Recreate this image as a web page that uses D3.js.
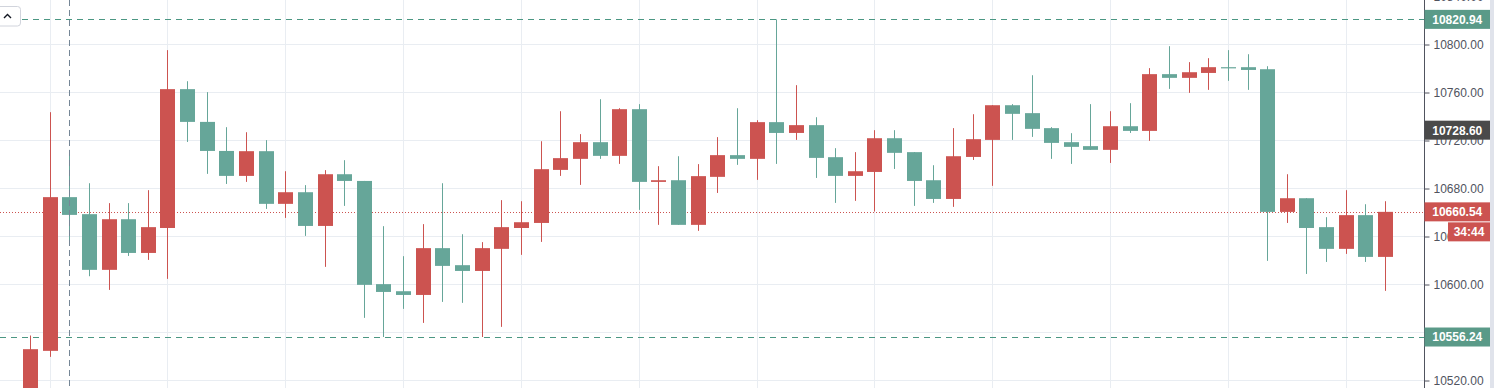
<!DOCTYPE html>
<html>
<head>
<meta charset="utf-8">
<script src="https://cdn.jsdelivr.net/npm/d3@7"></script>
<style>
  html, body { margin: 0; padding: 0; background: #ffffff; overflow: hidden; }
  svg { display: block; }
  text { font-family: "Liberation Sans", Arial, sans-serif; }
</style>
</head>
<body>
<svg id="chart" width="1494" height="388"></svg>
<script>
// ---- data ----
const openVals  = [10500, 10544.7, 10672.8, 10658.6, 10612.2, 10654.4, 10626.3, 10647.1, 10762.8, 10735.5,
                   10711.3, 10690.5, 10711.1, 10667.2, 10676.9, 10648.8, 10691.9, 10686.3, 10600.3, 10594.4,
                   10591.3, 10630.3, 10616.1, 10611.3, 10629.7, 10647.1, 10651.3, 10695.5, 10704.7, 10718.6,
                   10707.2, 10746.1, 10685.5, 10686.9, 10649.7, 10689.7, 10707.8, 10704.7, 10735.3, 10726.3,
                   10732.8, 10706.1, 10690.5, 10693.8, 10721.9, 10710.3, 10686.9, 10671.3, 10706.3, 10720.5,
                   10749.4, 10742.8, 10730.3, 10718.6, 10715.3, 10712.2, 10731.9, 10728.0, 10775.3, 10772.2,
                   10776.3, 10781.1, 10781.1, 10779.4, 10660.5, 10671.9, 10647.8, 10629.7, 10657.8, 10623.0];
const highVals  = [10557.5, 10743.6, 10712.2, 10684.4, 10667.8, 10667.8, 10678.6, 10795.3, 10769.4, 10760.3,
                   10731.1, 10726.9, 10720.3, 10694.4, 10682.8, 10695.3, 10703.6, 10686.3, 10648.6, 10623.6,
                   10650.3, 10684.4, 10641.9, 10635.3, 10670.3, 10669.4, 10719.4, 10744.4, 10725.3, 10754.4,
                   10746.9, 10750.3, 10698.6, 10706.9, 10700.3, 10722.8, 10746.9, 10736.9, 10820.94, 10766.1,
                   10739.4, 10713.6, 10710.3, 10728.6, 10728.6, 10710.3, 10699.4, 10730.3, 10741.9, 10749.4,
                   10750.3, 10774.4, 10731.1, 10726.1, 10750.3, 10744.4, 10751.1, 10780.3, 10798.6, 10785.3,
                   10788.6, 10795.3, 10791.9, 10781.9, 10691.9, 10671.9, 10656.1, 10678.6, 10666.9, 10669.4];
const lowVals   = [10490, 10539.7, 10635.8, 10606.9, 10595.5, 10623.8, 10620.5, 10604.7, 10718.8, 10692.2,
                   10683.8, 10685.5, 10663.0, 10655.5, 10640.5, 10614.7, 10665.5, 10572.2, 10556.24, 10579.7,
                   10568.0, 10585.5, 10584.7, 10556.24, 10564.7, 10624.7, 10635.5, 10690.5, 10683.0, 10704.7,
                   10700.5, 10662.2, 10649.7, 10649.7, 10644.7, 10676.3, 10699.7, 10687.2, 10700.5, 10720.5,
                   10688.8, 10668.0, 10669.7, 10660.8, 10696.3, 10665.5, 10668.0, 10664.7, 10703.8, 10682.2,
                   10720.5, 10723.0, 10704.7, 10700.5, 10712.2, 10701.3, 10726.3, 10719.7, 10763.0, 10759.7,
                   10762.2, 10769.7, 10762.2, 10619.7, 10651.3, 10608.8, 10618.8, 10625.5, 10618.8, 10594.7];
const closeVals = [10546.1, 10672.8, 10658.0, 10612.2, 10654.4, 10626.3, 10647.8, 10762.8, 10735.5, 10711.3,
                   10690.5, 10711.1, 10667.2, 10676.9, 10648.8, 10691.9, 10686.3, 10599.7, 10593.8, 10591.3,
                   10630.3, 10615.5, 10611.3, 10630.3, 10647.8, 10651.9, 10696.1, 10705.3, 10718.6, 10707.2,
                   10746.1, 10685.5, 10686.9, 10649.7, 10690.3, 10707.8, 10704.7, 10735.3, 10726.3, 10732.8,
                   10705.5, 10690.5, 10694.4, 10721.9, 10709.7, 10686.3, 10671.3, 10706.9, 10721.1, 10749.4,
                   10742.2, 10729.7, 10718.0, 10714.7, 10712.2, 10731.9, 10728.0, 10775.3, 10772.2, 10776.9,
                   10781.1, 10780.6, 10778.8, 10660.5, 10671.9, 10647.1, 10629.7, 10657.8, 10623.0, 10660.54];
const yTicks = [10520, 10560, 10600, 10640, 10680, 10720, 10760, 10800, 10840];
const highLine = 10820.94;
const lowLine = 10556.24;
const lastPrice = 10660.54;
const crossPrice = 10728.60;
const crossIndex = 2;
const countdown = "34:44";

// ---- layout ----
const W = 1494, H = 388;
const plotRight = 1424;
const upColor = "#cc5350", downColor = "#66a699";
const svg = d3.select("#chart");

const n = closeVals.length;
const x = d3.scaleLinear().domain([0, n - 1]).range([30.5, 30.5 + (n - 1) * 19.638]);
const y = d3.scaleLinear().domain([10520, 10840]).range([380.5, -3.5]);
const bodyW = 15;

svg.append("rect").attr("x", 0).attr("y", 0).attr("width", W).attr("height", H).attr("fill", "#ffffff");

// grid
const grid = svg.append("g");
const vIdx = d3.range(1, n, 6);
grid.selectAll("line.v").data(vIdx).join("line")
  .attr("x1", d => Math.floor(x(d)) + 0.5).attr("x2", d => Math.floor(x(d)) + 0.5)
  .attr("y1", 0).attr("y2", H)
  .attr("stroke", "#e9edf2").attr("stroke-width", 1);
grid.selectAll("line.h").data(yTicks).join("line")
  .attr("x1", 0).attr("x2", plotRight)
  .attr("y1", d => Math.round(y(d) - 0.5) + 0.5).attr("y2", d => Math.round(y(d) - 0.5) + 0.5)
  .attr("stroke", "#e9edf2").attr("stroke-width", 1);

// high / low dashed lines
[highLine, lowLine].forEach(v => {
  svg.append("line")
    .attr("x1", 0).attr("x2", plotRight)
    .attr("y1", Math.round(y(v)) + 0.5).attr("y2", Math.round(y(v)) + 0.5)
    .attr("stroke", "#4b9783").attr("stroke-width", 1).attr("stroke-dasharray", "6,5");
});
// last price dotted line
svg.append("line")
  .attr("x1", 0).attr("x2", plotRight)
  .attr("y1", Math.round(y(lastPrice)) + 0.5).attr("y2", Math.round(y(lastPrice)) + 0.5)
  .attr("stroke", "#cc5350").attr("stroke-width", 1).attr("stroke-dasharray", "1,2");

// candles
const idx = d3.range(n);
const candles = svg.append("g");
candles.selectAll("line.wick").data(idx).join("line")
  .attr("x1", i => Math.floor(x(i)) + 0.5).attr("x2", i => Math.floor(x(i)) + 0.5)
  .attr("y1", i => y(highVals[i])).attr("y2", i => y(lowVals[i]))
  .attr("stroke", i => closeVals[i] >= openVals[i] ? upColor : downColor)
  .attr("stroke-width", 1);
candles.selectAll("rect.body").data(idx).join("rect")
  .attr("x", i => Math.floor(x(i)) + 0.5 - bodyW / 2)
  .attr("width", bodyW)
  .attr("y", i => y(Math.max(openVals[i], closeVals[i])))
  .attr("height", i => Math.max(1.2, Math.abs(y(openVals[i]) - y(closeVals[i]))))
  .attr("fill", i => closeVals[i] >= openVals[i] ? upColor : downColor);

// vertical crosshair
svg.append("line")
  .attr("x1", Math.floor(x(crossIndex)) + 0.5).attr("x2", Math.floor(x(crossIndex)) + 0.5)
  .attr("y1", 0).attr("y2", H)
  .attr("stroke", "#758696").attr("stroke-width", 1).attr("stroke-dasharray", "6,4");

// top-left button
svg.append("rect").attr("x", -6).attr("y", 6.5).attr("width", 26.5).attr("height", 19.5).attr("rx", 3)
  .attr("fill", "#ffffff").attr("stroke", "#d1d4dc").attr("stroke-width", 1);
svg.append("path").attr("d", "M4,18 L7.5,14.5 L11,18").attr("fill", "none")
  .attr("stroke", "#131722").attr("stroke-width", 1.4);

// right price axis
svg.append("rect").attr("x", plotRight).attr("y", 0).attr("width", W - plotRight).attr("height", H).attr("fill", "#ffffff");
svg.append("rect").attr("x", 1490).attr("y", 0).attr("width", 4).attr("height", H).attr("fill", "#e0e3eb");
const axis = d3.axisRight(y).tickValues(yTicks).tickSize(5).tickPadding(4).tickFormat(d3.format(".2f"));
const axG = svg.append("g").attr("transform", `translate(${plotRight + 0.5},0)`).call(axis);
axG.select(".domain").attr("stroke", "#50535e").attr("d", `M0,0V${H}`);
axG.selectAll(".tick line").attr("stroke", "#50535e");
axG.selectAll(".tick text").attr("fill", "#50535e").attr("font-size", 12)
  .attr("font-family", "'Liberation Sans', Arial, sans-serif");

// price labels
function priceLabel(v, bg, txt, x0, w, yc) {
  const g = svg.append("g");
  g.append("rect").attr("x", x0).attr("y", yc - 9.5).attr("width", w).attr("height", 19).attr("fill", bg);
  g.append("text").attr("x", x0 + w / 2).attr("y", yc).attr("dy", "0.36em")
    .attr("text-anchor", "middle").attr("fill", "#ffffff").attr("font-size", 12)
    .attr("font-weight", "bold").text(txt);
}
priceLabel(highLine, "#5a9a88", d3.format(".2f")(highLine), plotRight + 0.5, 65.5, y(highLine));
priceLabel(crossPrice, "#4a4a4a", d3.format(".2f")(crossPrice), plotRight + 0.5, 65.5, y(crossPrice));
priceLabel(lowLine, "#5a9a88", d3.format(".2f")(lowLine), plotRight + 0.5, 65.5, y(lowLine));
priceLabel(lastPrice, "#cc5350", d3.format(".2f")(lastPrice), plotRight + 0.5, 65.5, y(lastPrice));
priceLabel(lastPrice, "#cc5350", countdown, 1448, 42, y(lastPrice) + 20);
</script>
</body>
</html>
